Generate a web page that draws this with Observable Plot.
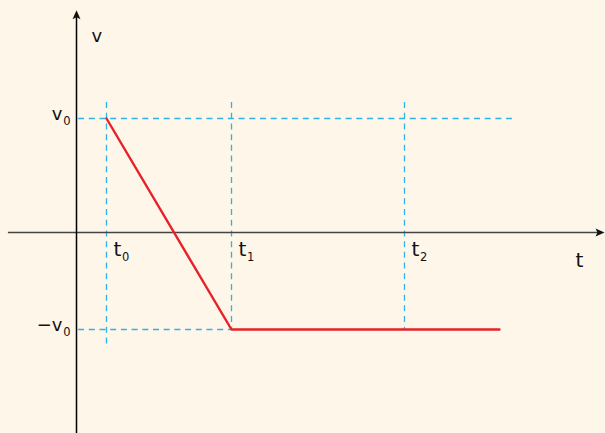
<!DOCTYPE html>
<html>
<head>
<meta charset="utf-8">
<script src="https://cdn.jsdelivr.net/npm/d3@7"></script>
<script src="https://cdn.jsdelivr.net/npm/@observablehq/plot@0.6"></script>
<style>
  html, body { margin: 0; padding: 0; background: #fdf6e9; }
  #chart svg { display: block; }
</style>
</head>
<body>
<div id="chart"></div>
<script>
// Velocity v(t): falls linearly from v0 at t0 to −v0 at t1, then stays constant.
const motionT = [1, 5.1667, 14.1];
const motionV = [1, -0.85, -0.85];

// Time marks t0, t1, t2 with guide lines
const markT = [1, 5.1667, 10.9333];
const markName = ["t", "t", "t"];
const markSub = ["0", "1", "2"];
const markLow = [-1.0, -0.85, -0.85];  // lower end of each vertical guide
const guideTop = 1.14;                  // upper end of the vertical guides

// Velocity levels v0 and −v0 with horizontal guides
const levelV = [1, -0.85];
const levelName = ["v", "−v"];
const levelSub = ["0", "0"];
const levelEnd = [14.53, 5.1667];      // right end of each horizontal guide
const guideStart = 0.07;

// Coordinate axes extents
const tAxis = [-2.27, 17.6];
const vAxis = [-1.77, 1.95];
const axisNames = ["t", "v"];

const levels = levelV.map((v, i) => ({v, name: levelName[i], sub: levelSub[i], end: levelEnd[i]}));
const marks = markT.map((t, i) => ({t, name: markName[i], sub: markSub[i], low: markLow[i]}));
const motion = motionT.map((t, i) => ({t, v: motionV[i]}));

// Filled, slightly notched arrowhead with its tip at the anchor, pointing up
const arrowHead = {
  draw(context) {
    context.moveTo(0, 0);
    context.lineTo(4, 9);
    context.lineTo(0, 7);
    context.lineTo(-4, 9);
    context.closePath();
  }
};

const font = "DejaVu Sans, Verdana, sans-serif";
const cyan = "#2cb4ea";
const red = "#e8202a";

const chart = Plot.plot({
  width: 605,
  height: 433,
  margin: 0,
  style: {background: "#fdf6e9", fontFamily: font, color: "#111"},
  x: {type: "linear", domain: [-76 / 30, 529 / 30], range: [0, 605], axis: null},
  y: {type: "linear", domain: [-0.85, 1], range: [329, 118], axis: null},
  marks: [
    // dashed guides
    Plot.ruleY(levels, {y: "v", x1: guideStart, x2: "end", stroke: cyan, strokeWidth: 1.3, strokeDasharray: "6,4.7"}),
    Plot.ruleX(marks, {x: "t", y1: guideTop, y2: "low", stroke: cyan, strokeWidth: 1.3, strokeDasharray: "6,4.7"}),
    // axes
    Plot.ruleY([0], {x1: tAxis[0], x2: tAxis[1] - 0.15, stroke: "#444", strokeWidth: 1.6}),
    Plot.ruleX([0], {y1: vAxis[0], y2: vAxis[1] - 0.05, stroke: "#000", strokeWidth: 1.5}),
    Plot.dot([{t: tAxis[1], v: 0, r: 90}, {t: 0, v: vAxis[1], r: 0}], {
      x: "t", y: "v", symbol: arrowHead, rotate: "r", fill: "#111", stroke: "none", r: 4
    }),
    // velocity curve
    Plot.line(motion, {x: "t", y: "v", stroke: red, strokeWidth: 2.4, strokeLinejoin: "miter"}),
    // axis names
    Plot.text([axisNames[0]], {x: tAxis[1], y: 0, text: d => d, dx: -25, dy: 34, fontSize: 20, lineAnchor: "bottom", fill: "#111"}),
    Plot.text([axisNames[1]], {x: 0, y: vAxis[1], text: d => d, dx: 15, dy: 32, fontSize: 18, textAnchor: "start", lineAnchor: "bottom", fill: "#111"}),
    // time labels with subscripts
    Plot.text(marks, {x: "t", y: 0, text: "name", dx: 7, dy: 23, fontSize: 20, textAnchor: "start", lineAnchor: "bottom", fill: "#111"}),
    Plot.text(marks, {x: "t", y: 0, text: "sub", dx: 15.5, dy: 28, fontSize: 11.5, textAnchor: "start", lineAnchor: "bottom", fill: "#111"}),
    // velocity labels with subscripts
    Plot.text(levels, {x: 0, y: "v", text: "name", dx: -14, dy: 1.5, fontSize: 18, textAnchor: "end", lineAnchor: "bottom", fill: "#111"}),
    Plot.text(levels, {x: 0, y: "v", text: "sub", dx: -6, dy: 6, fontSize: 11.5, textAnchor: "end", lineAnchor: "bottom", fill: "#111"})
  ]
});

document.getElementById("chart").append(chart);
</script>
</body>
</html>
